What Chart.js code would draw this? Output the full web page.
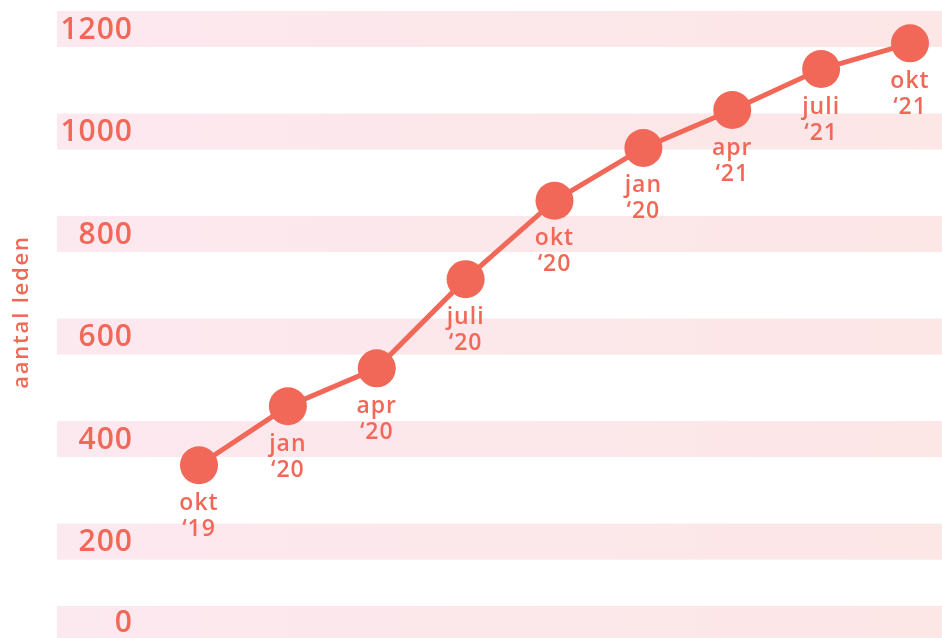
<!DOCTYPE html>
<html>
<head>
<meta charset="utf-8">
<script src="https://cdn.jsdelivr.net/npm/chart.js@4"></script>
<style>
  html, body { margin: 0; padding: 0; background: #fff; }
  #wrap { width: 942px; height: 638px; position: relative; }
</style>
</head>
<body>
<div id="wrap"><canvas id="ledenChart"></canvas></div>
<script>
// data
const maanden = ["okt", "jan", "apr", "juli", "okt", "jan", "apr", "juli", "okt"];
const jaren = ["\u201819", "\u201820", "\u201820", "\u201820", "\u201820", "\u201820", "\u201821", "\u201821", "\u201821"];
const leden = [349, 464, 538, 712, 865, 968, 1042, 1122, 1172];
const yTicks = [0, 200, 400, 600, 800, 1000, 1200];
const yTitel = "aantal leden";

const koraal = "#f26858";
const fontFam = "'Open Sans', sans-serif";

// pink bands + y labels behind the line, month labels on top
const bandPlugin = {
  id: "bands",
  beforeDatasetsDraw(chart) {
    const { ctx, width, height } = chart;
    const y = chart.scales.y;
    const grad = ctx.createLinearGradient(57, 0, width, 0);
    grad.addColorStop(0, "#fce8ef");
    grad.addColorStop(1, "#fce6e6");

    ctx.save();
    yTicks.forEach(v => {
      const py = y.getPixelForValue(v);
      const top = Math.min(py - 18, height - 32);
      ctx.fillStyle = grad;
      ctx.fillRect(57, top, width - 57, 36);

      const mid = Math.min(py, (top + height) / 2);
      ctx.fillStyle = koraal;
      ctx.font = "600 30px " + fontFam;
      ctx.letterSpacing = "1px";
      ctx.textAlign = "right";
      ctx.textBaseline = "middle";
      ctx.fillText(String(v), 133, mid + 1);
    });

    // axis title
    ctx.translate(22, 312);
    ctx.rotate(-Math.PI / 2);
    ctx.font = "600 22px " + fontFam;
    ctx.letterSpacing = "1.8px";
    ctx.textAlign = "center";
    ctx.textBaseline = "middle";
    ctx.fillText(yTitel, 0, 0);
    ctx.restore();
  },
  afterDatasetsDraw(chart) {
    const { ctx } = chart;
    const meta = chart.getDatasetMeta(0);
    ctx.save();
    ctx.fillStyle = koraal;
    ctx.font = "600 23px " + fontFam;
    ctx.letterSpacing = "1px";
    ctx.textAlign = "center";
    ctx.textBaseline = "middle";
    meta.data.forEach((pt, i) => {
      ctx.fillText(maanden[i], pt.x, pt.y + 38);
      ctx.fillText(jaren[i], pt.x, pt.y + 64);
    });
    ctx.restore();
  }
};

new Chart(document.getElementById("ledenChart"), {
  type: "line",
  data: {
    labels: maanden,
    datasets: [{
      data: leden,
      borderColor: koraal,
      backgroundColor: koraal,
      borderWidth: 5,
      pointRadius: 19,
      pointHoverRadius: 19,
      pointBorderWidth: 0,
      tension: 0,
      clip: false
    }]
  },
  options: {
    responsive: true,
    maintainAspectRatio: false,
    animation: false,
    layout: { autoPadding: false, padding: { left: 199, right: 32, top: 29, bottom: 0 } },
    plugins: {
      legend: { display: false },
      tooltip: { enabled: false }
    },
    scales: {
      x: { type: "category", display: false, offset: false },
      y: { display: false, min: 12, max: 1200 }
    }
  },
  plugins: [bandPlugin]
});
</script>
</body>
</html>
